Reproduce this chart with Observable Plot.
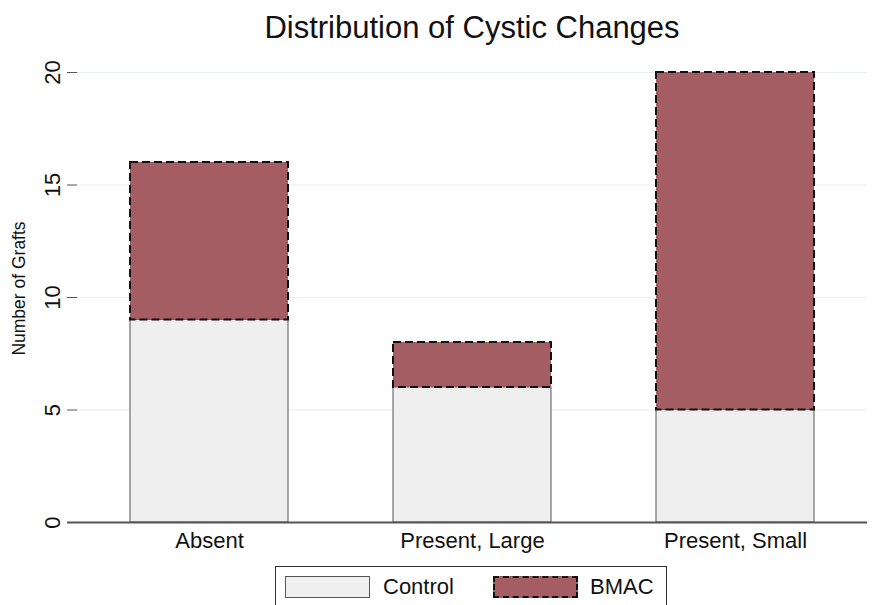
<!DOCTYPE html>
<html>
<head>
<meta charset="utf-8">
<script src="https://cdn.jsdelivr.net/npm/d3@7"></script>
<script src="https://cdn.jsdelivr.net/npm/@observablehq/plot@0.6"></script>
<style>
  html, body { margin: 0; padding: 0; background: #fff; overflow: hidden; }
  body { width: 872px; height: 605px; position: relative; font-family: "Liberation Sans", Arial, Helvetica, sans-serif; }
  #title { position: absolute; left: 77px; width: 790px; top: 10px; text-align: center; font-size: 31px; color: #111; }
  #chart { position: absolute; left: 0; top: 0; }
  #legend { position: absolute; left: 275px; top: 566px; width: 392px; height: 60px; border: 1px solid #333; box-sizing: border-box; }
  .sw { position: absolute; top: 9px; width: 85px; height: 22px; box-sizing: border-box; }
  .lt { position: absolute; top: 8px; font-size: 22px; color: #111; line-height: 24px; }
</style>
</head>
<body>
<div id="title">Distribution of Cystic Changes</div>
<div id="chart"></div>
<div id="legend">
  <div class="sw" id="sw0" style="left:9px;"></div>
  <div class="lt" id="lt0" style="left:107px;"></div>
  <div class="sw" id="sw1" style="left:217px;"></div>
  <div class="lt" id="lt1" style="left:314px;"></div>
</div>
<script>
const categories = ["Absent", "Present, Large", "Present, Small"];
const seriesNames = ["Control", "BMAC"];
const controlValues = [9, 6, 5];
const bmacValues = [7, 2, 15];
const yTicks = [0, 5, 10, 15, 20];
const yLabel = "Number of Grafts";

const colors = { Control: "#efefef", BMAC: "#a45d62" };

const rows = categories.map((c, i) => ({
  cat: c,
  control: controlValues[i],
  bmac: bmacValues[i],
  total: controlValues[i] + bmacValues[i]
}));

const font = "Liberation Sans, Arial, Helvetica, sans-serif";

const chart = Plot.plot({
  width: 872,
  height: 560,
  marginTop: 72,
  marginBottom: 38,
  marginLeft: 77,
  marginRight: 5,
  style: { fontFamily: font, background: "transparent", color: "#111" },
  x: { domain: categories, paddingInner: 0.4, paddingOuter: 0.2, label: null },
  y: { domain: [0, 20], label: null },
  marks: [
    Plot.gridY(yTicks.filter(d => d > 0), { stroke: "#e6edf5", strokeOpacity: 1, strokeWidth: 1.2 }),
    Plot.barY(rows, { x: "cat", y1: 0, y2: "control", fill: colors.Control, stroke: "#555", strokeWidth: 1 }),
    Plot.barY(rows, { x: "cat", y1: "control", y2: "total", fill: colors.BMAC, stroke: "#111", strokeWidth: 2, strokeDasharray: "8,4" }),
    Plot.axisY({ ticks: yTicks, tickSize: 10, tickFormat: () => "", label: null, stroke: "#555" }),
    Plot.text(yTicks, { frameAnchor: "left", y: d => d, text: d => String(d), rotate: -90, dx: -25, fontSize: 22, textAnchor: "middle", lineAnchor: "middle", fill: "#111" }),
    Plot.text([yLabel], { frameAnchor: "left", rotate: -90, dx: -58, dy: -9, fontSize: 17.5, textAnchor: "middle", lineAnchor: "middle", fill: "#111" }),
    Plot.axisX({ tickSize: 0, tickPadding: 10, fontSize: 22, label: null }),
    Plot.ruleX([0], { frameAnchor: "left", stroke: "#555", strokeWidth: 1.5 }),
    Plot.ruleY([0], { stroke: "#555", strokeWidth: 1.8, insetLeft: -10 })
  ]
});
document.getElementById("chart").appendChild(chart);

// legend
const sw0 = document.getElementById("sw0");
sw0.style.background = colors.Control;
sw0.style.border = "1.5px solid #555";
const sw1 = document.getElementById("sw1");
sw1.style.background = colors.BMAC;
sw1.style.border = "2px dashed #111";
document.getElementById("lt0").textContent = seriesNames[0];
document.getElementById("lt1").textContent = seriesNames[1];
</script>
</body>
</html>
